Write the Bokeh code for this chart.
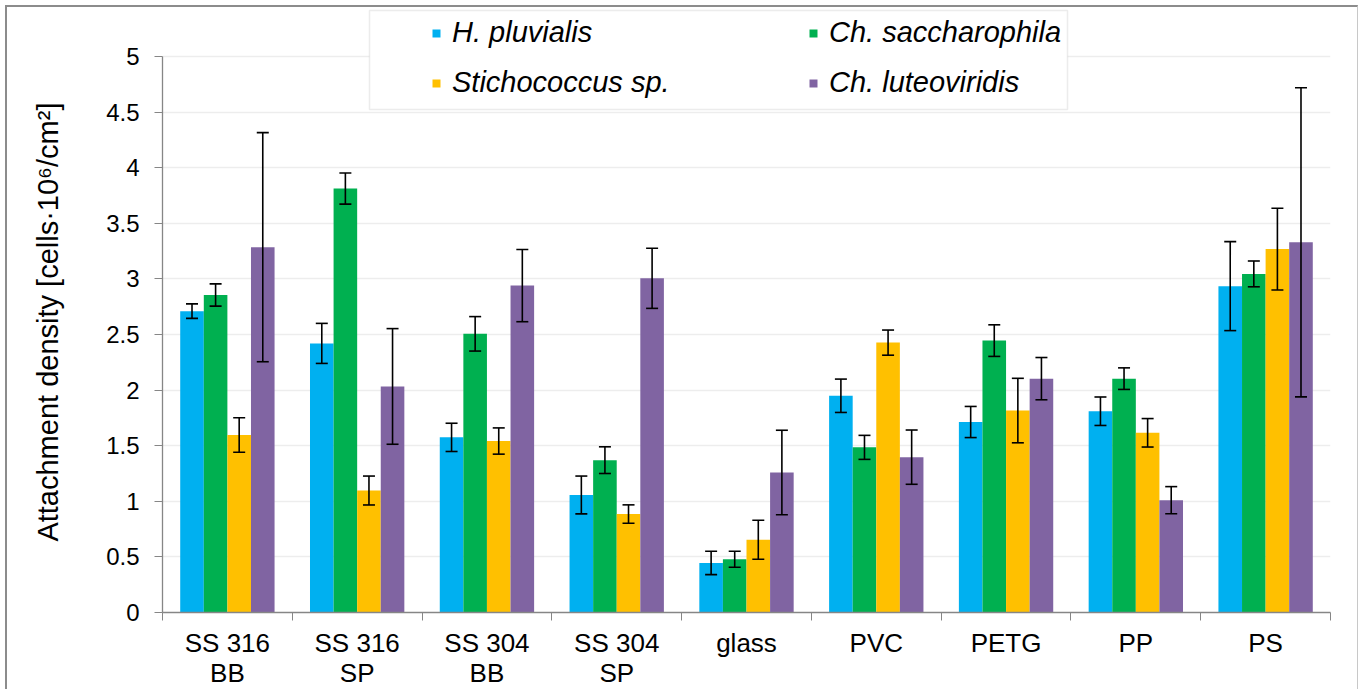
from bokeh.plotting import figure
from bokeh.models import (ColumnDataSource, Whisker, TeeHead, Legend, LegendItem,
                          FixedTicker, BoxAnnotation, Range1d, NumeralTickFormatter, LinearAxis)
from bokeh.embed import file_html
from bokeh.resources import INLINE

# ---------------- data ----------------
categories = ["SS 316\nBB", "SS 316\nSP", "SS 304\nBB", "SS 304\nSP", "glass",
              "PVC", "PETG", "PP", "PS"]
series_names = ["H. pluvialis", "Ch. saccharophila", "Stichococcus sp.", "Ch. luteoviridis"]

h_pluvialis = [2.71, 2.42, 1.575, 1.057, 0.446, 1.949, 1.713, 1.81, 2.935]
h_pluvialis_err = [0.065, 0.18, 0.127, 0.17, 0.105, 0.15, 0.14, 0.128, 0.40]

ch_saccharophila = [2.855, 3.812, 2.506, 1.37, 0.479, 1.485, 2.445, 2.103, 3.045]
ch_saccharophila_err = [0.10, 0.14, 0.155, 0.12, 0.072, 0.108, 0.142, 0.097, 0.116]

stichococcus = [1.596, 1.097, 1.542, 0.885, 0.654, 2.427, 1.816, 1.616, 3.268]
stichococcus_err = [0.155, 0.13, 0.118, 0.083, 0.175, 0.113, 0.29, 0.128, 0.368]

ch_luteoviridis = [3.285, 2.033, 2.94, 3.005, 1.259, 1.397, 2.103, 1.01, 3.329]
ch_luteoviridis_err = [1.03, 0.52, 0.325, 0.27, 0.38, 0.244, 0.19, 0.122, 1.39]

y_ticks = [0, 0.5, 1, 1.5, 2, 2.5, 3, 3.5, 4, 4.5, 5]
y_title = "Attachment density [cells\u00b710\u2076/cm\u00b2]"

colors = ["#00B0F0", "#00B050", "#FFC000", "#8064A2"]

values = [h_pluvialis, ch_saccharophila, stichococcus, ch_luteoviridis]
errors = [h_pluvialis_err, ch_saccharophila_err, stichococcus_err, ch_luteoviridis_err]

# ---------------- figure ----------------
FONT = "Liberation Sans"
n = len(categories)
group_width = 0.727
bar_w = group_width / len(series_names)
y_max_axis = y_ticks[-1]
FRAME_H = 605
# extra head-room above the axis so that the legend box fits inside the frame
y_top = y_max_axis * FRAME_H / (FRAME_H - 49)

p = figure(frame_width=1168, frame_height=FRAME_H,
           x_range=Range1d(0, n), y_range=Range1d(0, y_top),
           output_backend="svg", toolbar_location=None,
           min_border_left=155, min_border_right=27, min_border_top=0, min_border_bottom=40)
p.outline_line_color = None
p.background_fill_color = "white"
p.border_fill_color = "white"
p.styles = {"margin-left": "5px", "margin-top": "5px",
            "border-left": "2px solid #8C8C8C", "border-top": "2px solid #8C8C8C",
            "border-right": "1px solid #C8C8C8"}

renderers = []
for j, (vals, errs, color) in enumerate(zip(values, errors, colors)):
    xs = [i + 0.5 + (j - 1.5) * bar_w for i in range(n)]
    src = ColumnDataSource(dict(
        x=xs, top=vals,
        upper=[v + e for v, e in zip(vals, errs)],
        lower=[v - e for v, e in zip(vals, errs)]))
    r = p.vbar(x="x", top="top", width=bar_w, source=src, fill_color=color, line_color=None)
    renderers.append(r)
    w = Whisker(source=src, base="x", upper="upper", lower="lower", level="annotation",
                line_color="black", line_width=1.6,
                upper_head=TeeHead(size=12, line_color="black", line_width=1.6),
                lower_head=TeeHead(size=12, line_color="black", line_width=1.6))
    p.add_layout(w)

# y axis (label padded with no-break spaces so that it sits centred on the 0-5 span)
p.yaxis.bounds = (0, y_max_axis)
p.yaxis.ticker = FixedTicker(ticks=y_ticks)
p.yaxis.formatter = NumeralTickFormatter(format="0.[0]")
p.yaxis.axis_label = y_title + "\u00a0" * 3
p.yaxis.axis_label_text_font = FONT
p.yaxis.axis_label_text_font_size = "29px"
p.yaxis.axis_label_text_font_style = "normal"
p.yaxis.axis_label_text_color = "black"
p.yaxis.axis_label_standoff = 39
p.yaxis.major_label_text_font = FONT
p.yaxis.major_label_text_font_size = "24px"
p.yaxis.major_label_text_color = "black"
p.yaxis.major_label_standoff = 15
p.yaxis.axis_line_color = "#868686"
p.yaxis.axis_line_width = 1.3
p.yaxis.major_tick_line_color = "#868686"
p.yaxis.major_tick_out = 8
p.yaxis.major_tick_in = 0
p.yaxis.minor_tick_line_color = None

# x axis: labels at category centres, tick marks at category boundaries
line1 = [c.split("\n")[0] for c in categories]
line2 = [c.split("\n")[1] if "\n" in c else "" for c in categories]
centres = [i + 0.5 for i in range(n)]

xa = p.xaxis[0]
xa.ticker = FixedTicker(ticks=centres, minor_ticks=list(range(n + 1)))
xa.major_label_overrides = {c: t for c, t in zip(centres, line1)}
xa.major_label_text_font = FONT
xa.major_label_text_font_size = "26px"
xa.major_label_text_color = "black"
xa.major_label_standoff = 7
xa.major_tick_out = 0
xa.major_tick_in = 0
xa.major_tick_line_color = None
xa.minor_tick_line_color = "#868686"
xa.minor_tick_out = 8
xa.minor_tick_in = 0
xa.axis_line_color = "#868686"
xa.axis_line_width = 1.3

xa2 = LinearAxis(ticker=FixedTicker(ticks=centres, minor_ticks=[]),
                 major_label_overrides={c: t for c, t in zip(centres, line2)})
xa2.major_label_text_font = FONT
xa2.major_label_text_font_size = "26px"
xa2.major_label_text_color = "black"
xa2.major_label_standoff = -3
xa2.major_tick_out = 0
xa2.major_tick_in = 0
xa2.major_tick_line_color = None
xa2.minor_tick_line_color = None
xa2.axis_line_color = None
p.add_layout(xa2, "below")

p.xgrid.visible = False
p.ygrid.grid_line_color = "#EDEDED"
p.ygrid.grid_line_width = 1.5

# legend frame
p.add_layout(BoxAnnotation(left=360, right=1058, top=1, bottom=100,
                           left_units="canvas", right_units="canvas",
                           top_units="canvas", bottom_units="canvas",
                           fill_color="white", fill_alpha=1,
                           line_color="#BFBFBF", line_width=1.5))

def make_legend(idx, loc):
    lg = Legend(items=[LegendItem(label=series_names[k], renderers=[renderers[k]]) for k in idx],
                location=loc, orientation="vertical")
    lg.background_fill_alpha = 0
    lg.border_line_color = None
    lg.padding = 0
    lg.margin = 0
    lg.spacing = 17
    lg.glyph_width = 10
    lg.glyph_height = 10
    lg.label_height = 33
    lg.label_standoff = 11
    lg.label_text_font = FONT
    lg.label_text_font_size = "29px"
    lg.label_text_font_style = "italic"
    lg.label_text_color = "black"
    return lg

p.add_layout(make_legend([0, 2], (269, 513)))
p.add_layout(make_legend([1, 3], (646, 513)))

open("out.html", "w").write(file_html(p, INLINE))
